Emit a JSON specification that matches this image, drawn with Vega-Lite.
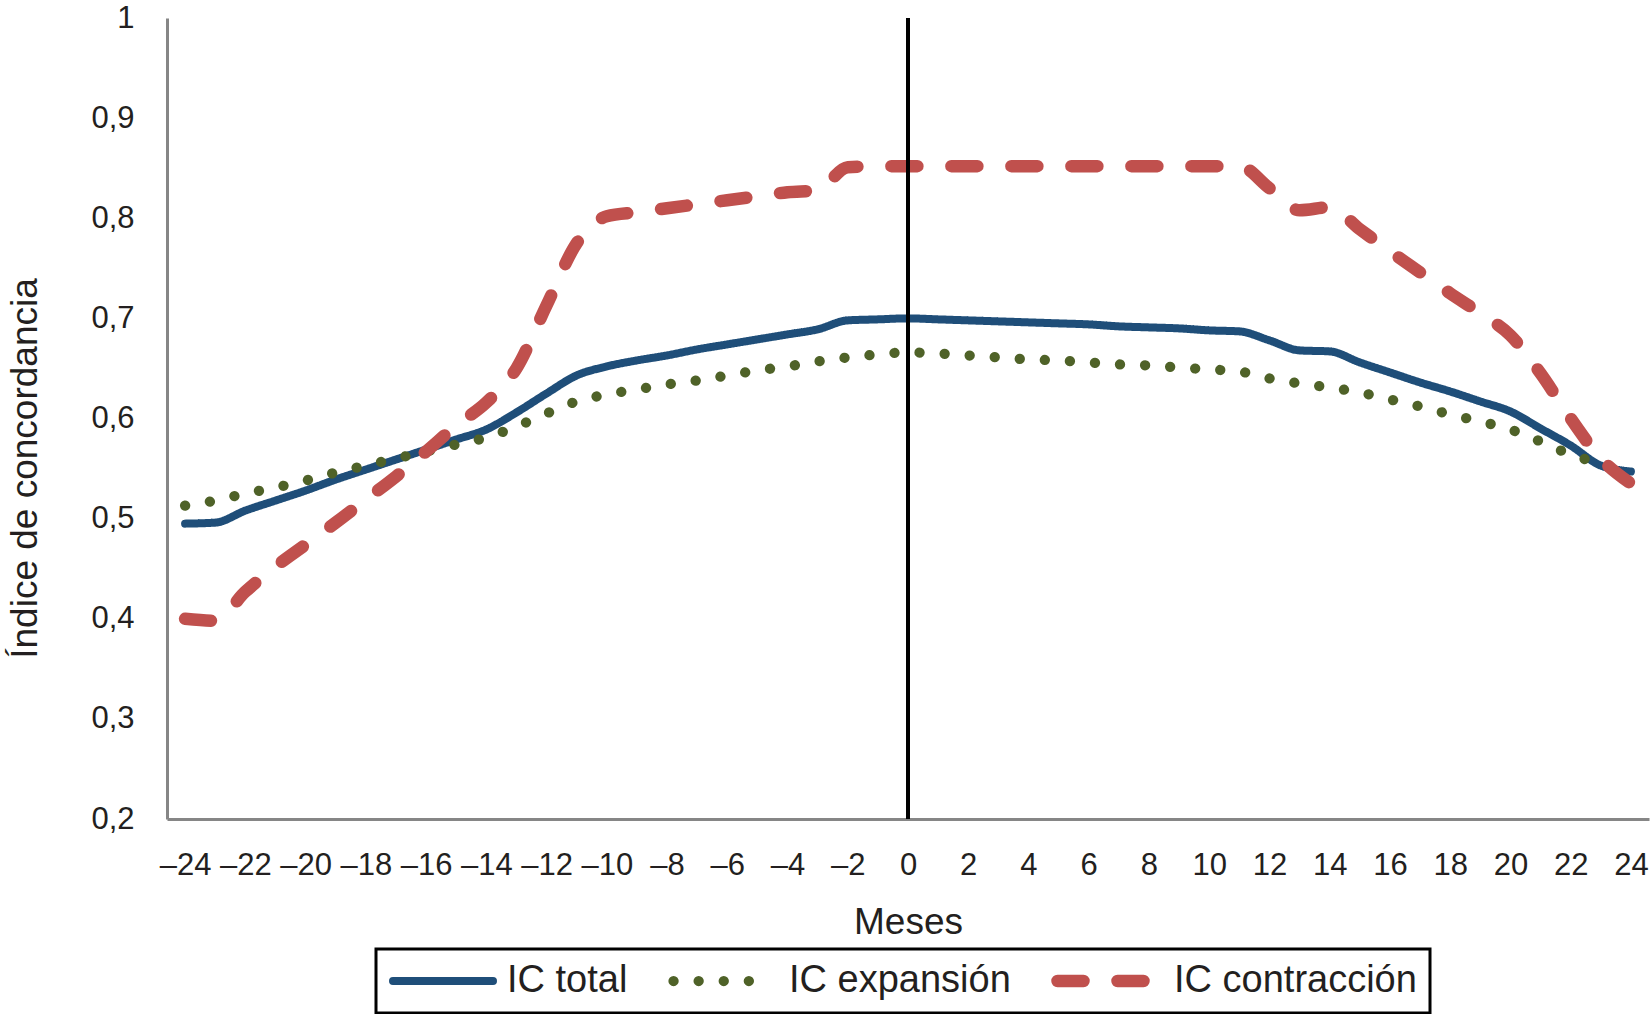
{
  "$schema": "https://vega.github.io/schema/vega-lite/v6.json",
  "width": 1482,
  "height": 801,
  "autosize": "none",
  "padding": {"left": 167, "top": 18, "right": 3, "bottom": 195},
  "background": "white",
  "datasets": {
    "ic": [
      {"mes": -24, "serie": "IC total", "valor": 0.495},
      {"mes": -23, "serie": "IC total", "valor": 0.496},
      {"mes": -22, "serie": "IC total", "valor": 0.508},
      {"mes": -21, "serie": "IC total", "valor": 0.518},
      {"mes": -20, "serie": "IC total", "valor": 0.528},
      {"mes": -19, "serie": "IC total", "valor": 0.539},
      {"mes": -18, "serie": "IC total", "valor": 0.549},
      {"mes": -17, "serie": "IC total", "valor": 0.559},
      {"mes": -16, "serie": "IC total", "valor": 0.569},
      {"mes": -15, "serie": "IC total", "valor": 0.579},
      {"mes": -14, "serie": "IC total", "valor": 0.589},
      {"mes": -13, "serie": "IC total", "valor": 0.606},
      {"mes": -12, "serie": "IC total", "valor": 0.625},
      {"mes": -11, "serie": "IC total", "valor": 0.643},
      {"mes": -10, "serie": "IC total", "valor": 0.652},
      {"mes": -9, "serie": "IC total", "valor": 0.658},
      {"mes": -8, "serie": "IC total", "valor": 0.663},
      {"mes": -7, "serie": "IC total", "valor": 0.669},
      {"mes": -6, "serie": "IC total", "valor": 0.674},
      {"mes": -5, "serie": "IC total", "valor": 0.679},
      {"mes": -4, "serie": "IC total", "valor": 0.684},
      {"mes": -3, "serie": "IC total", "valor": 0.689},
      {"mes": -2, "serie": "IC total", "valor": 0.698},
      {"mes": -1, "serie": "IC total", "valor": 0.699},
      {"mes": 0, "serie": "IC total", "valor": 0.700},
      {"mes": 1, "serie": "IC total", "valor": 0.699},
      {"mes": 2, "serie": "IC total", "valor": 0.698},
      {"mes": 3, "serie": "IC total", "valor": 0.697},
      {"mes": 4, "serie": "IC total", "valor": 0.696},
      {"mes": 5, "serie": "IC total", "valor": 0.695},
      {"mes": 6, "serie": "IC total", "valor": 0.694},
      {"mes": 7, "serie": "IC total", "valor": 0.692},
      {"mes": 8, "serie": "IC total", "valor": 0.691},
      {"mes": 9, "serie": "IC total", "valor": 0.690},
      {"mes": 10, "serie": "IC total", "valor": 0.688},
      {"mes": 11, "serie": "IC total", "valor": 0.687},
      {"mes": 12, "serie": "IC total", "valor": 0.678},
      {"mes": 13, "serie": "IC total", "valor": 0.668},
      {"mes": 14, "serie": "IC total", "valor": 0.667},
      {"mes": 15, "serie": "IC total", "valor": 0.656},
      {"mes": 16, "serie": "IC total", "valor": 0.646},
      {"mes": 17, "serie": "IC total", "valor": 0.636},
      {"mes": 18, "serie": "IC total", "valor": 0.627},
      {"mes": 19, "serie": "IC total", "valor": 0.617},
      {"mes": 20, "serie": "IC total", "valor": 0.607},
      {"mes": 21, "serie": "IC total", "valor": 0.590},
      {"mes": 22, "serie": "IC total", "valor": 0.573},
      {"mes": 23, "serie": "IC total", "valor": 0.553},
      {"mes": 24, "serie": "IC total", "valor": 0.547},

      {"mes": -24, "serie": "IC expansión", "valor": 0.513},
      {"mes": -23, "serie": "IC expansión", "valor": 0.518},
      {"mes": -22, "serie": "IC expansión", "valor": 0.525},
      {"mes": -21, "serie": "IC expansión", "valor": 0.531},
      {"mes": -20, "serie": "IC expansión", "valor": 0.538},
      {"mes": -19, "serie": "IC expansión", "valor": 0.546},
      {"mes": -18, "serie": "IC expansión", "valor": 0.553},
      {"mes": -17, "serie": "IC expansión", "valor": 0.560},
      {"mes": -16, "serie": "IC expansión", "valor": 0.567},
      {"mes": -15, "serie": "IC expansión", "valor": 0.574},
      {"mes": -14, "serie": "IC expansión", "valor": 0.581},
      {"mes": -13, "serie": "IC expansión", "valor": 0.592},
      {"mes": -12, "serie": "IC expansión", "valor": 0.605},
      {"mes": -11, "serie": "IC expansión", "valor": 0.617},
      {"mes": -10, "serie": "IC expansión", "valor": 0.624},
      {"mes": -9, "serie": "IC expansión", "valor": 0.629},
      {"mes": -8, "serie": "IC expansión", "valor": 0.634},
      {"mes": -7, "serie": "IC expansión", "valor": 0.638},
      {"mes": -6, "serie": "IC expansión", "valor": 0.643},
      {"mes": -5, "serie": "IC expansión", "valor": 0.648},
      {"mes": -4, "serie": "IC expansión", "valor": 0.652},
      {"mes": -3, "serie": "IC expansión", "valor": 0.657},
      {"mes": -2, "serie": "IC expansión", "valor": 0.661},
      {"mes": -1, "serie": "IC expansión", "valor": 0.664},
      {"mes": 0, "serie": "IC expansión", "valor": 0.666},
      {"mes": 1, "serie": "IC expansión", "valor": 0.665},
      {"mes": 2, "serie": "IC expansión", "valor": 0.663},
      {"mes": 3, "serie": "IC expansión", "valor": 0.661},
      {"mes": 4, "serie": "IC expansión", "valor": 0.659},
      {"mes": 5, "serie": "IC expansión", "valor": 0.658},
      {"mes": 6, "serie": "IC expansión", "valor": 0.656},
      {"mes": 7, "serie": "IC expansión", "valor": 0.654},
      {"mes": 8, "serie": "IC expansión", "valor": 0.653},
      {"mes": 9, "serie": "IC expansión", "valor": 0.651},
      {"mes": 10, "serie": "IC expansión", "valor": 0.649},
      {"mes": 11, "serie": "IC expansión", "valor": 0.647},
      {"mes": 12, "serie": "IC expansión", "valor": 0.640},
      {"mes": 13, "serie": "IC expansión", "valor": 0.635},
      {"mes": 14, "serie": "IC expansión", "valor": 0.631},
      {"mes": 15, "serie": "IC expansión", "valor": 0.626},
      {"mes": 16, "serie": "IC expansión", "valor": 0.619},
      {"mes": 17, "serie": "IC expansión", "valor": 0.612},
      {"mes": 18, "serie": "IC expansión", "valor": 0.604},
      {"mes": 19, "serie": "IC expansión", "valor": 0.597},
      {"mes": 20, "serie": "IC expansión", "valor": 0.589},
      {"mes": 21, "serie": "IC expansión", "valor": 0.577},
      {"mes": 22, "serie": "IC expansión", "valor": 0.564},
      {"mes": 23, "serie": "IC expansión", "valor": 0.555},
      {"mes": 24, "serie": "IC expansión", "valor": 0.547},

      {"mes": -24, "serie": "IC contracción", "valor": 0.400},
      {"mes": -23, "serie": "IC contracción", "valor": 0.398},
      {"mes": -22, "serie": "IC contracción", "valor": 0.427},
      {"mes": -21, "serie": "IC contracción", "valor": 0.452},
      {"mes": -20, "serie": "IC contracción", "valor": 0.474},
      {"mes": -19, "serie": "IC contracción", "valor": 0.496},
      {"mes": -18, "serie": "IC contracción", "valor": 0.519},
      {"mes": -17, "serie": "IC contracción", "valor": 0.542},
      {"mes": -16, "serie": "IC contracción", "valor": 0.567},
      {"mes": -15, "serie": "IC contracción", "valor": 0.593},
      {"mes": -14, "serie": "IC contracción", "valor": 0.616},
      {"mes": -13, "serie": "IC contracción", "valor": 0.650},
      {"mes": -12, "serie": "IC contracción", "valor": 0.713},
      {"mes": -11, "serie": "IC contracción", "valor": 0.775},
      {"mes": -10, "serie": "IC contracción", "valor": 0.802},
      {"mes": -9, "serie": "IC contracción", "valor": 0.806},
      {"mes": -8, "serie": "IC contracción", "valor": 0.810},
      {"mes": -7, "serie": "IC contracción", "valor": 0.814},
      {"mes": -6, "serie": "IC contracción", "valor": 0.818},
      {"mes": -5, "serie": "IC contracción", "valor": 0.822},
      {"mes": -4, "serie": "IC contracción", "valor": 0.826},
      {"mes": -3, "serie": "IC contracción", "valor": 0.828},
      {"mes": -2, "serie": "IC contracción", "valor": 0.851},
      {"mes": -1, "serie": "IC contracción", "valor": 0.852},
      {"mes": 0, "serie": "IC contracción", "valor": 0.852},
      {"mes": 1, "serie": "IC contracción", "valor": 0.852},
      {"mes": 2, "serie": "IC contracción", "valor": 0.852},
      {"mes": 3, "serie": "IC contracción", "valor": 0.852},
      {"mes": 4, "serie": "IC contracción", "valor": 0.852},
      {"mes": 5, "serie": "IC contracción", "valor": 0.852},
      {"mes": 6, "serie": "IC contracción", "valor": 0.852},
      {"mes": 7, "serie": "IC contracción", "valor": 0.852},
      {"mes": 8, "serie": "IC contracción", "valor": 0.852},
      {"mes": 9, "serie": "IC contracción", "valor": 0.852},
      {"mes": 10, "serie": "IC contracción", "valor": 0.852},
      {"mes": 11, "serie": "IC contracción", "valor": 0.852},
      {"mes": 12, "serie": "IC contracción", "valor": 0.830},
      {"mes": 13, "serie": "IC contracción", "valor": 0.808},
      {"mes": 14, "serie": "IC contracción", "valor": 0.811},
      {"mes": 15, "serie": "IC contracción", "valor": 0.789},
      {"mes": 16, "serie": "IC contracción", "valor": 0.767},
      {"mes": 17, "serie": "IC contracción", "valor": 0.746},
      {"mes": 18, "serie": "IC contracción", "valor": 0.725},
      {"mes": 19, "serie": "IC contracción", "valor": 0.705},
      {"mes": 20, "serie": "IC contracción", "valor": 0.683},
      {"mes": 21, "serie": "IC contracción", "valor": 0.645},
      {"mes": 22, "serie": "IC contracción", "valor": 0.600},
      {"mes": 23, "serie": "IC contracción", "valor": 0.560},
      {"mes": 24, "serie": "IC contracción", "valor": 0.535}
    ]
  },
  "layer": [
    {
      "data": {"name": "ic"},
      "mark": {
        "type": "line",
        "strokeCap": "round",
        "strokeJoin": "round",
        "interpolate": "monotone"
      },
      "encoding": {
        "x": {
          "field": "mes",
          "type": "quantitative",
          "scale": {"domain": [-24.6, 24.6], "nice": false, "zero": false},
          "axis": {
            "title": "Meses",
            "values": [-24, -22, -20, -18, -16, -14, -12, -10, -8, -6, -4, -2, 0, 2, 4, 6, 8, 10, 12, 14, 16, 18, 20, 22, 24],
            "labelExpr": "datum.value < 0 ? '–' + abs(datum.value) : '' + datum.value",
            "labelPadding": 31,
            "titleY": 114,
            "titleBaseline": "alphabetic"
          }
        },
        "y": {
          "field": "valor",
          "type": "quantitative",
          "scale": {"domain": [0.2, 1], "nice": false, "zero": false},
          "axis": {
            "title": "Índice de concordancia",
            "values": [0.2, 0.3, 0.4, 0.5, 0.6, 0.7, 0.8, 0.9, 1],
            "labelExpr": "replace(format(datum.value, '.1~f'), '.', ',')",
            "labelPadding": 33,
            "titleAngle": -90,
            "titleAlign": "center",
            "titleBaseline": "alphabetic",
            "titleX": -131,
            "titleY": 450
          }
        },
        "color": {
          "field": "serie",
          "type": "nominal",
          "scale": {
            "domain": ["IC total", "IC expansión", "IC contracción"],
            "range": ["#1F4E79", "#4F6228", "#C0504D"]
          },
          "legend": {
            "title": null,
            "encode": {
              "symbols": {
                "update": {
                  "strokeCap": {"value": "round"},
                  "strokeWidth": {"value": 11}
                }
              }
            }
          }
        },
        "strokeDash": {
          "field": "serie",
          "type": "nominal",
          "scale": {
            "domain": ["IC total", "IC expansión", "IC contracción"],
            "range": [[1, 0], [0.1, 25], [26, 34]]
          },
          "legend": {"title": null}
        },
        "strokeWidth": {
          "field": "serie",
          "type": "nominal",
          "scale": {
            "domain": ["IC total", "IC expansión", "IC contracción"],
            "range": [8, 12.5, 8]
          },
          "legend": null
        }
      }
    },
    {
      "data": {"values": [{"mes": 0}]},
      "mark": {"type": "rule", "color": "black", "strokeWidth": 4},
      "encoding": {"x": {"field": "mes", "type": "quantitative"}}
    }
  ],
  "config": {
    "font": "Liberation Sans",
    "view": {"stroke": null},
    "axis": {
      "grid": false,
      "ticks": false,
      "tickSize": 0,
      "domainColor": "#868686",
      "domainWidth": 3,
      "labelFont": "Liberation Sans",
      "labelFontSize": 31,
      "labelColor": "#231F20",
      "titleFont": "Liberation Sans",
      "titleFontSize": 37,
      "titleFontWeight": "normal",
      "titleColor": "#231F20"
    },
    "legend": {
      "orient": "none",
      "direction": "horizontal",
      "legendX": 209,
      "legendY": 931,
      "padding": 13,
      "strokeColor": "black",
      "strokeWidth": 3,
      "symbolType": "stroke",
      "symbolSize": 10000,
      "symbolStrokeWidth": 11,
      "clipHeight": 38,
      "labelFont": "Liberation Sans",
      "labelFontSize": 38,
      "labelColor": "#231F20",
      "labelOffset": 10,
      "columnPadding": 40,
      "labelLimit": 400
    }
  }
}
